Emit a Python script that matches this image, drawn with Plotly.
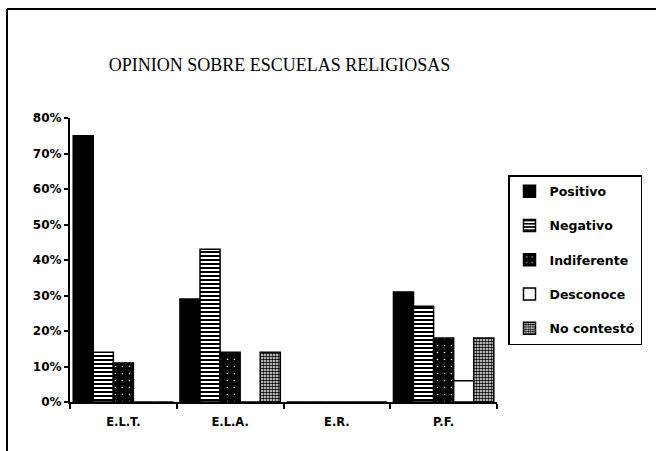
import plotly.graph_objects as go

categories = ["E.L.T.", "E.L.A.", "E.R.", "P.F."]
positivo = [0.75, 0.29, 0.0, 0.31]
negativo = [0.14, 0.43, 0.0, 0.27]
indiferente = [0.11, 0.14, 0.0, 0.18]
desconoce = [0.0, 0.0, 0.0, 0.06]
no_contesto = [0.0, 0.14, 0.0, 0.18]
series_names = ["Positivo", "Negativo", "Indiferente", "Desconoce", "No contestó"]
tick_vals = [0, 0.1, 0.2, 0.3, 0.4, 0.5, 0.6, 0.7, 0.8]
tick_text = ["0%", "10%", "20%", "30%", "40%", "50%", "60%", "70%", "80%"]
title_text = "OPINION SOBRE ESCUELAS RELIGIOSAS"

W, H = 656, 451
L, R, T, B = 70, 159, 118, 49
pw, ph = W - L - R, H - T - B

styles = [
    dict(color="black", pattern=None),
    dict(color="white", pattern=dict(shape="-", bgcolor="white", fgcolor="black", size=4, solidity=0.5)),
    dict(color="black", pattern=dict(shape=".", bgcolor="black", fgcolor="white", size=7, solidity=0.04)),
    dict(color="white", pattern=None),
    dict(color="white", pattern=dict(shape=".", bgcolor="white", fgcolor="black", size=3, solidity=0.6)),
]

fig = go.Figure()
for name, vals, st in zip(series_names, [positivo, negativo, indiferente, desconoce, no_contesto], styles):
    marker = dict(color=st["color"], line=dict(color="black", width=1.5))
    if st["pattern"]:
        marker["pattern"] = dict(fillmode="replace", **st["pattern"])
    fig.add_trace(go.Bar(x=categories, y=vals, name=name, marker=marker, legendgroup=name))

def px_x(p):
    return (p - L) / pw

def px_y(p):
    return (H - B - p) / ph

fig.update_layout(
    width=W, height=H,
    margin=dict(l=L, r=R, t=T, b=B),
    paper_bgcolor="white", plot_bgcolor="white",
    barmode="group", bargap=0.06, bargroupgap=0,
    showlegend=True,
    legend=dict(
        xref="container", yref="container",
        x=508 / W, y=1 - 175 / H, xanchor="left", yanchor="top",
        bordercolor="black", borderwidth=1.5, bgcolor="white",
        font=dict(family="DejaVu Sans", size=12.5, color="black", weight="bold"),
        tracegroupgap=15, traceorder="grouped",
    ),
    title=dict(
        text=title_text, xref="container", yref="container",
        x=279.5 / W, y=1 - 65 / H, xanchor="center", yanchor="middle",
        font=dict(family="Liberation Serif", size=18, color="black"),
    ),
    xaxis=dict(
        showline=True, linecolor="black", linewidth=2,
        ticks="outside", ticklen=5, tickwidth=1.5, tickcolor="black",
        tickson="boundaries", showgrid=False, ticklabelstandoff=8,
        tickfont=dict(family="DejaVu Sans", size=11.5, color="black", weight="bold"),
    ),
    yaxis=dict(
        range=[0, 0.8], tickvals=tick_vals, ticktext=tick_text,
        showline=True, linecolor="black", linewidth=2,
        ticks="outside", ticklen=4, tickwidth=1.5, tickcolor="black",
        showgrid=False, zeroline=False,
        tickfont=dict(family="DejaVu Sans", size=12, color="black", weight="bold"),
    ),
    shapes=[
        dict(type="line", xref="paper", yref="paper", x0=px_x(7), x1=px_x(W), y0=px_y(9), y1=px_y(9),
             line=dict(color="black", width=2)),
        dict(type="line", xref="paper", yref="paper", x0=px_x(7), x1=px_x(7), y0=px_y(9), y1=px_y(H),
             line=dict(color="black", width=2)),
    ],
)

fig.write_html(
    "out.html",
    config={"displayModeBar": False},
    post_script="document.body.style.margin='0';document.body.style.overflow='hidden';",
)
